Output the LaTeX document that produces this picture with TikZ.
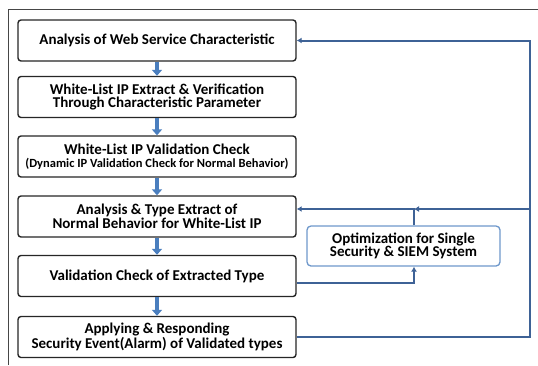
\documentclass[tikz,border=0pt]{standalone}
\usepackage{fontspec}
\setmainfont{Carlito}
\usetikzlibrary{arrows.meta}
\definecolor{flowblue}{RGB}{74,126,190}
\definecolor{linkblue}{RGB}{62,98,150}
\definecolor{framegray}{RGB}{70,70,70}
\tikzset{
  stepbox/.style={draw=black!85, line width=1.4pt, rounded corners=3pt, fill=white,
    minimum width=278pt, minimum height=41pt, inner sep=1pt, align=center,
    font=\fontsize{15}{13.5}\selectfont\bfseries},
  optbox/.style={draw=flowblue!80, line width=1.3pt, rounded corners=4pt, fill=white,
    minimum width=193pt, minimum height=40pt, inner sep=1pt, align=center,
    font=\fontsize{15}{13.5}\selectfont\bfseries},
  downarrow/.style={draw=flowblue, line width=4pt, -{Triangle[width=10pt,length=6pt]}},
  linkarrow/.style={draw=linkblue, line width=2pt, -{Latex[length=5pt,width=6pt]}}
}
\begin{document}
\begin{tikzpicture}[x=1pt,y=-1pt]
\useasboundingbox (0,0) rectangle (538,365);

% outer frame
\draw[framegray, line width=1pt] (8,365) -- (8,9) -- (538,9);

% main steps
\node[stepbox] (web) at (157,40.5) {Analysis of Web Service Characteristic};
\node[stepbox] (white) at (157,97) {White-List IP Extract \& Verification\\Through Characteristic Parameter};
\node[stepbox] (valid) at (157,156.5) {White-List IP Validation Check\\{\fontsize{12.5}{13}\selectfont(Dynamic IP Validation Check for Normal Behavior)}};
\node[stepbox] (type) at (157,216.5) {Analysis \& Type Extract of\\Normal Behavior for White-List IP};
\node[stepbox] (check) at (157,276) {Validation Check of Extracted Type};
\node[stepbox] (alarm) at (157,337) {Applying \& Responding\\Security Event(Alarm) of Validated types};

\node[optbox] (opt) at (403.5,246) {Optimization for Single\\Security \& SIEM System};

\foreach \a/\b in {web/white, white/valid, valid/type, type/check, check/alarm}
  \draw[downarrow] (\a) -- (\b);

% feedback lines
\coordinate (rtop) at (530,40.5);
\coordinate (rmid) at (530,209);
\coordinate (join) at (414,209);

\draw[linkarrow] (alarm.east) -| (rtop) -- (web.east);
\draw[linkarrow] (rmid) -- (join);
\draw[linkarrow] (opt.north -| join) -- (join) -- ([yshift=7.5pt]type.east);
\draw[linkarrow] ([yshift=-7pt]check.east) -| (opt.south -| join);

\end{tikzpicture}
\end{document}
